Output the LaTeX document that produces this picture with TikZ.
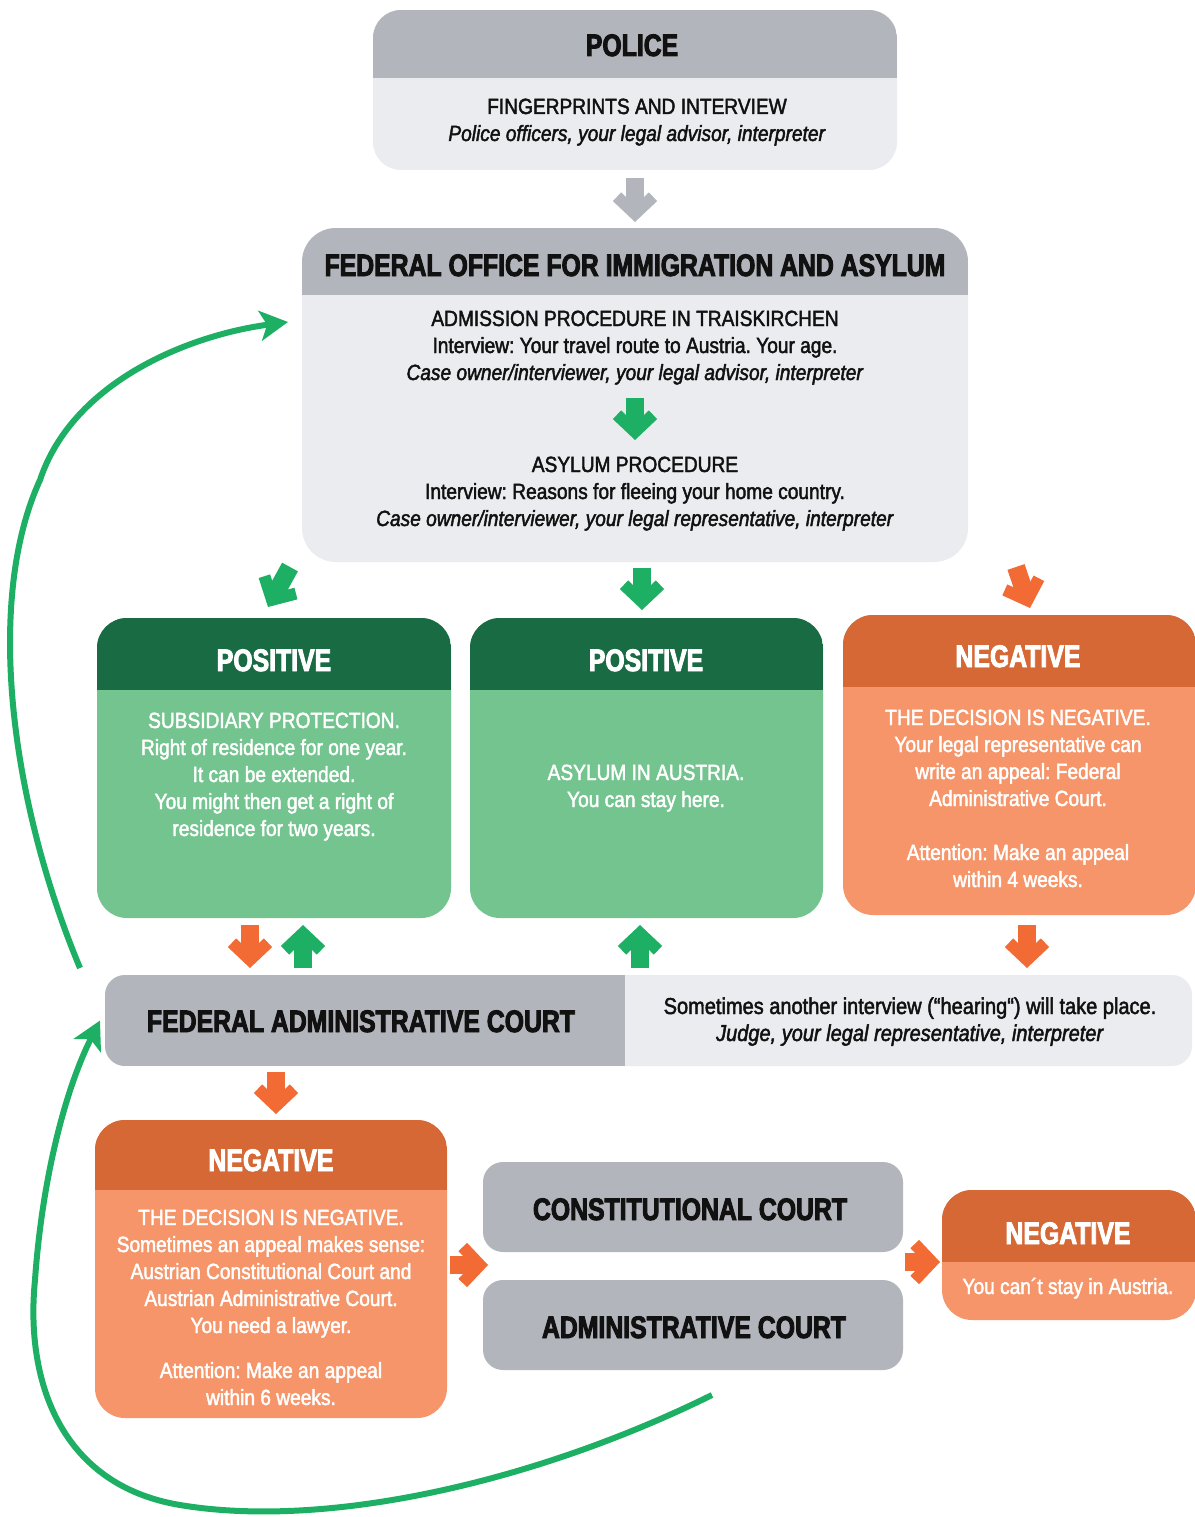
\documentclass[tikz,border=0pt]{standalone}
\usepackage{fontspec}
\setmainfont{Liberation Sans}[FakeStretch=0.87, FakeBold=2]
\newfontfamily\hdfont{Liberation Sans}[FakeStretch=0.80, BoldFeatures={FakeBold=3}]
\usetikzlibrary{arrows.meta,calc}
\definecolor{gHead}{HTML}{B2B6BC}
\definecolor{gBody}{HTML}{EBECEF}
\definecolor{dGreen}{HTML}{186B43}
\definecolor{lGreen}{HTML}{74C48F}
\definecolor{aGreen}{HTML}{1DB064}
\definecolor{oHead}{HTML}{D56835}
\definecolor{oBody}{HTML}{F59569}
\definecolor{aOrange}{HTML}{F26B35}
\definecolor{txt}{HTML}{111111}
\newcommand\panelhead[4]{%
  \begin{scope}
    \clip[rounded corners=#3] (#1.south west) rectangle (#1.north east);
    \fill[#4] (#1.north west) rectangle ([yshift=-#2]#1.north east);
  \end{scope}}
\tikzset{
  panel/.style={inner sep=0pt, outer sep=0pt, draw=none},
  hd/.style={font=\hdfont\bfseries\fontsize{31}{36}\selectfont, inner sep=0pt, anchor=base},
  bd/.style={font=\fontsize{22}{27}\selectfont\frenchspacing, inner sep=0pt, anchor=base, align=center},
  barrow/.style={line width=18pt, -{Straight Barb[length=17pt,width=36pt,line width=12pt]}},
  loop/.style={draw=aGreen, line width=6pt, -{Stealth[length=28pt,width=30pt,inset=7pt]}},
}
\begin{document}
\begin{tikzpicture}[x=1pt,y=-1pt]
\fill[white] (0,0) rectangle (1194,1517);
\useasboundingbox (0,0) rectangle (1194,1517);

% POLICE
\node[panel, fill=gBody, rounded corners=28pt, minimum width=524pt, minimum height=160pt] (police) at (635,90) {};
\panelhead{police}{68pt}{28pt}{gHead}
\node[hd, text=txt] (policeT) at (632,56) {POLICE};
\node[bd, text=txt] (policeB) at (637,141) {FINGERPRINTS AND INTERVIEW\\\textit{Police officers, your legal advisor, interpreter}};

% FEDERAL OFFICE
\node[panel, fill=gBody, rounded corners=34pt, minimum width=666pt, minimum height=334pt] (fed) at (635,395) {};
\panelhead{fed}{67pt}{34pt}{gHead}
\node[hd, text=txt] (fedT) at (635,276) {FEDERAL OFFICE FOR IMMIGRATION AND ASYLUM};
\node[bd, text=txt] (admT) at (635,380) {ADMISSION PROCEDURE IN TRAISKIRCHEN\\Interview: Your travel route to Austria. Your age.\\\textit{Case owner/interviewer, your legal advisor, interpreter}};
\node[bd, text=txt] (asyT) at (635,526) {ASYLUM PROCEDURE\\Interview: Reasons for fleeing your home country.\\\textit{Case owner/interviewer, your legal representative, interpreter}};

% POSITIVE 1
\node[panel, fill=lGreen, rounded corners=30pt, minimum width=354pt, minimum height=300pt] (pos1) at (274,768) {};
\panelhead{pos1}{72pt}{30pt}{dGreen}
\node[hd, text=white] (pos1T) at (274,671) {POSITIVE};
\node[bd, text=white] (pos1B) at (274,836) {SUBSIDIARY PROTECTION.\\Right of residence for one year.\\It can be extended.\\You might then get a right of\\residence for two years.};

% POSITIVE 2
\node[panel, fill=lGreen, rounded corners=30pt, minimum width=353pt, minimum height=300pt] (pos2) at (646.5,768) {};
\panelhead{pos2}{72pt}{30pt}{dGreen}
\node[hd, text=white] (pos2T) at (646,671) {POSITIVE};
\node[bd, text=white] (pos2B) at (646,807) {ASYLUM IN AUSTRIA.\\You can stay here.};

% NEGATIVE 1
\node[panel, fill=oBody, rounded corners=30pt, minimum width=353pt, minimum height=300pt] (neg1) at (1019.5,765) {};
\panelhead{neg1}{72pt}{30pt}{oHead}
\node[hd, text=white] (neg1T) at (1018,667) {NEGATIVE};
\node[bd, text=white] (neg1B) at (1018,887) {THE DECISION IS NEGATIVE.\\Your legal representative can\\write an appeal: Federal\\Administrative Court.\\[27pt]Attention: Make an appeal\\within 4 weeks.};

% FEDERAL ADMINISTRATIVE COURT
\node[panel, fill=gBody, rounded corners=20pt, minimum width=1087pt, minimum height=91pt] (fac) at (648.5,1020.5) {};
\begin{scope}
  \clip[rounded corners=20pt] (fac.south west) rectangle (fac.north east);
  \fill[gHead] (fac.north west) rectangle (625,1066);
\end{scope}
\node[hd, text=txt] (facT) at (361,1032) {FEDERAL ADMINISTRATIVE COURT};
\node[bd, text=txt, font=\fontsize{23}{27}\selectfont\frenchspacing] (facB) at (910,1041) {Sometimes another interview (“hearing“) will take place.\\\textit{Judge, your legal representative, interpreter}};

% NEGATIVE 2
\node[panel, fill=oBody, rounded corners=30pt, minimum width=352pt, minimum height=298pt] (neg2) at (271,1269) {};
\panelhead{neg2}{70pt}{30pt}{oHead}
\node[hd, text=white] (neg2T) at (271,1171) {NEGATIVE};
\node[bd, text=white] (neg2B) at (271,1405) {THE DECISION IS NEGATIVE.\\Sometimes an appeal makes sense:\\Austrian Constitutional Court and\\Austrian Administrative Court.\\You need a lawyer.\\[18pt]Attention: Make an appeal\\within 6 weeks.};

% COURTS
\node[panel, fill=gHead, rounded corners=20pt, minimum width=420pt, minimum height=90pt] (const) at (693,1207) {};
\node[hd, text=txt] (constT) at (690,1220) {CONSTITUTIONAL COURT};
\node[panel, fill=gHead, rounded corners=20pt, minimum width=420pt, minimum height=90pt] (admin) at (693,1325) {};
\node[hd, text=txt] (adminT) at (694,1338) {ADMINISTRATIVE COURT};

% NEGATIVE 3
\node[panel, fill=oBody, rounded corners=30pt, minimum width=254pt, minimum height=130pt] (neg3) at (1069,1255) {};
\panelhead{neg3}{72pt}{30pt}{oHead}
\node[hd, text=white] (neg3T) at (1068,1244) {NEGATIVE};
\node[bd, text=white] (neg3B) at (1068,1294) {You can´t stay in Austria.};

% block arrows
\draw[barrow, gHead] ($(police.south)+(0,8)$) -- ($(fed.north)+(0,-6)$);
\draw[barrow, aGreen] ($(fed.north)+(0,170)$) -- ($(fed.north)+(0,212)$);
\draw[barrow, aGreen] ($(fed.south)+(-345,5)$) -- ($(pos1.north)+(-6,-11)$);
\draw[barrow, aGreen] ($(fed.south)+(7,6)$) -- ($(pos2.north)+(-4.5,-8)$);
\draw[barrow, aOrange] ($(fed.south)+(381,5)$) -- ($(neg1.north)+(10.5,-7)$);
\draw[barrow, aOrange] ($(pos1.south)+(-24,7)$) -- ($(pos1.south |- fac.north)+(-24,-7)$);
\draw[barrow, aGreen] ($(pos1.south |- fac.north)+(29,-7)$) -- ($(pos1.south)+(29,7)$);
\draw[barrow, aGreen] ($(pos2.south |- fac.north)+(-6.5,-7)$) -- ($(pos2.south)+(-6.5,7)$);
\draw[barrow, aOrange] ($(neg1.south)+(7.5,10)$) -- ($(neg1.south |- fac.north)+(7.5,-7)$);
\draw[barrow, aOrange] ($(fac.south -| neg2.north)+(5,6)$) -- ($(neg2.north)+(5,-6)$);
\draw[barrow, aOrange] ($(neg2.east)+(3,-4)$) -- ($(const.south west)!0.5!(admin.north west)+(5,-1)$);
\draw[barrow, aOrange] ($(const.south east)!0.5!(admin.north east)+(2,-4)$) -- ($(neg3.west)+(-2,7)$);

% green loops
\coordinate (loopA) at ($(fac.north west)+(-25,-7)$);
\draw[loop] (loopA) .. controls (10,800) and (-15,600) .. (40,480) .. controls (73,381) and (190,335) .. ($(fed.north west)+(-14,94)$);
\coordinate (loopB) at (712,1395);
\draw[loop] (loopB) .. controls (540,1480) and (330,1530) .. (180,1505) .. controls (60,1485) and (25,1380) .. (35,1280) .. controls (42,1180) and (65,1090) .. ($(fac.west)+(-5,0)$);
\end{tikzpicture}
\end{document}
